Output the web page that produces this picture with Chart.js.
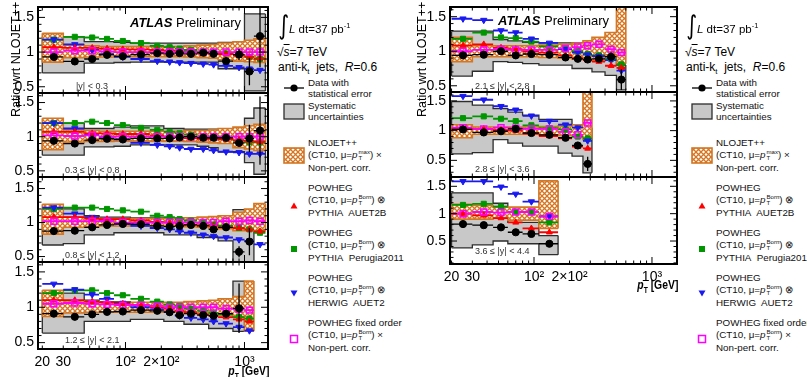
<!DOCTYPE html>
<html>
<head>
<meta charset="utf-8">
<script src="https://cdn.jsdelivr.net/npm/chart.js@4.4.1/dist/chart.umd.min.js"></script>
<style>
body{margin:0;width:807px;height:377px;position:relative;overflow:hidden;background:#fff;font-family:"Liberation Sans",Arial,sans-serif;}
canvas{position:absolute;}
.t{position:absolute;white-space:nowrap;color:#000;line-height:1;}
.ss{display:inline-flex;flex-direction:column;vertical-align:middle;font-size:0.62em;line-height:0.95;margin-left:1px;}
</style>
</head>
<body>
<script>
'use strict';

// pT bin edges [GeV]
const ptEdges = [20,30,45,60,80,110,160,210,260,310,400,500,600,800,1000,1200,1500];

const xTickVals = [20,30,100,200,1000];
const xTickText = ['20','30','10²','2×10²','10³'];
const yTickVals = [0.5,1,1.5];
const yTickText = ['0.5','1','1.5'];

// |y| < 0.3
const y03Data  = [0.93,0.865,0.90,0.96,0.94,0.965,0.985,0.975,0.985,0.975,0.99,0.975,0.87,0.965,0.72,1.23];
const y03Stat  = [0.01,0.01,0.01,0.01,0.01,0.01,0.01,0.01,0.01,0.01,0.01,0.015,0.03,0.08,0.2,0.45];
const y03SysUp = [1.22,1.22,1.15,1.15,1.14,1.13,1.13,1.13,1.13,1.13,1.13,1.13,1.14,1.14,1.55,1.55];
const y03SysDn = [0.70,0.70,0.84,0.84,0.85,0.855,0.855,0.855,0.855,0.855,0.855,0.855,0.76,0.76,0.44,0.44];
const y03NloUp = [1.27,1.10,1.09,1.08,1.08,1.08,1.08,1.08,1.08,1.09,1.10,1.11,1.13,1.15,1.17,1.19];
const y03NloDn = [0.855,0.92,0.93,0.93,0.935,0.935,0.935,0.935,0.935,0.93,0.92,0.91,0.89,0.87,0.86,0.85];
const y03PyA   = [1.07,1.06,1.06,1.05,1.04,1.04,1.03,1.02,1.01,1.0,0.99,0.98,0.97,0.95,0.93,0.91];
const y03PyP   = [1.18,1.22,1.21,1.19,1.16,1.13,1.09,1.07,1.05,1.03,1.01,1.0,0.98,0.96,0.93,0.90];
const y03Hw    = [1.18,1.11,1.03,0.97,0.93,0.90,0.87,0.86,0.85,0.84,0.83,0.82,0.80,0.78,0.76,0.74];
const y03Fo    = [1.0,1.02,1.02,1.01,1.0,1.0,1.0,1.0,1.0,1.0,1.0,1.0,1.0,1.0,1.0,1.0];

// 0.3 <= |y| < 0.8
const y08Data  = [0.94,0.90,0.95,0.97,0.96,0.975,0.975,0.975,0.99,1.0,0.985,0.985,0.985,0.91,0.975,1.09];
const y08Stat  = [0.01,0.01,0.01,0.01,0.01,0.01,0.01,0.01,0.01,0.01,0.01,0.01,0.02,0.05,0.2,0.5];
const y08SysUp = [1.2,1.2,1.12,1.12,1.14,1.16,1.16,1.12,1.12,1.11,1.11,1.11,1.11,1.11,1.27,1.42];
const y08SysDn = [0.73,0.73,0.85,0.85,0.86,0.88,0.88,0.88,0.88,0.88,0.86,0.84,0.78,0.78,0.62,0.45];
const y08NloUp = [1.27,1.10,1.09,1.08,1.08,1.08,1.08,1.08,1.08,1.09,1.09,1.10,1.12,1.14,1.16,1.18];
const y08NloDn = [0.81,0.92,0.93,0.93,0.935,0.935,0.935,0.935,0.935,0.93,0.92,0.91,0.90,0.84,0.82,0.80];
const y08PyA   = [1.07,1.07,1.05,1.05,1.04,1.04,1.02,1.0,1.0,0.98,0.97,0.97,0.96,0.95,0.94,0.93];
const y08PyP   = [1.2,1.2,1.22,1.2,1.17,1.13,1.10,1.07,1.05,1.03,1.0,0.98,0.97,0.94,0.92,0.92];
const y08Hw    = [1.2,1.12,1.03,0.98,0.96,0.91,0.88,0.86,0.84,0.82,0.82,0.80,0.78,0.77,0.75,0.75];
const y08Fo    = [1.02,1.01,1.02,1.0,1.0,1.0,1.0,1.0,1.0,1.0,1.0,1.0,1.0,1.0,1.0,1.0];

// 0.8 <= |y| < 1.2
const y12Data  = [0.875,0.88,0.93,0.965,0.98,0.975,0.95,0.94,0.95,0.965,0.95,0.90,0.93,0.57,0.72];
const y12Stat  = [0.01,0.01,0.01,0.01,0.01,0.01,0.01,0.01,0.01,0.01,0.01,0.015,0.04,0.08,0.2];
const y12SysUp = [1.2,1.2,1.1,1.08,1.08,1.07,1.07,1.07,1.07,1.06,1.06,1.06,1.06,1.19,1.17];
const y12SysDn = [0.67,0.69,0.82,0.82,0.85,0.85,0.85,0.82,0.82,0.82,0.78,0.78,0.73,0.42,0.42];
const y12NloUp = [1.27,1.08,1.07,1.06,1.06,1.06,1.06,1.06,1.06,1.07,1.08,1.09,1.10,1.15,1.2,1.28];
const y12NloDn = [0.83,0.93,0.94,0.95,0.95,0.95,0.95,0.95,0.95,0.94,0.93,0.92,0.91,0.88,0.88,0.88];
const y12PyA   = [1.08,1.08,1.06,1.05,1.05,1.03,1.01,1.0,0.98,0.97,0.96,0.95,0.93,0.92,0.90,0.87];
const y12PyP   = [1.2,1.22,1.22,1.2,1.18,1.16,1.10,1.08,1.05,1.03,1.0,0.97,0.95,0.92,0.90,0.85];
const y12Hw    = [1.22,1.13,1.08,1.04,0.98,0.95,0.92,0.90,0.87,0.85,0.82,0.80,0.78,0.75,0.73,0.68];
const y12Fo    = [1.02,1.02,1.02,1.02,1.0,1.0,1.0,1.0,1.0,1.0,1.0,1.0,1.02,1.02,1.03,1.02];

// 1.2 <= |y| < 2.1
const y21Data  = [0.91,0.865,0.90,0.935,0.94,0.96,0.95,0.93,0.89,0.91,0.89,0.88,0.91,0.985];
const y21Stat  = [0.01,0.01,0.01,0.01,0.01,0.01,0.01,0.01,0.01,0.01,0.01,0.02,0.05,0.35];
const y21SysUp = [1.2,1.2,1.1,1.08,1.08,1.06,1.06,1.05,1.05,1.05,1.05,1.06,1.07,1.37];
const y21SysDn = [0.635,0.635,0.80,0.80,0.80,0.83,0.83,0.80,0.80,0.76,0.76,0.70,0.70,0.66];
const y21NloUp = [1.24,1.09,1.08,1.07,1.07,1.07,1.07,1.07,1.07,1.08,1.09,1.1,1.12,1.15,1.37];
const y21NloDn = [0.87,0.92,0.93,0.93,0.93,0.93,0.93,0.93,0.93,0.92,0.92,0.91,0.89,0.87,0.66];
const y21PyA   = [1.1,1.1,1.08,1.07,1.05,1.03,1.0,0.98,0.95,0.93,0.9,0.88,0.86,0.83,0.80];
const y21PyP   = [1.2,1.24,1.24,1.2,1.17,1.12,1.08,1.04,1.02,0.98,0.95,0.92,0.90,0.86,0.84];
const y21Hw    = [1.33,1.25,1.18,1.12,1.06,1.0,0.97,0.93,0.88,0.85,0.83,0.80,0.77,0.72,0.67];
const y21Fo    = [1.05,1.06,1.05,1.04,1.03,1.03,1.02,1.0,1.0,1.0,1.0,1.0,0.98,0.97,0.96];

// 2.1 <= |y| < 2.8
const y28Data  = [0.94,0.95,1.0,0.94,0.96,0.95,0.91,0.89,0.88,0.89,0.92,0.59];
const y28Stat  = [0.01,0.01,0.01,0.01,0.01,0.01,0.01,0.01,0.02,0.03,0.06,0.15];
const y28SysUp = [1.29,1.29,1.17,1.15,1.13,1.12,1.12,1.12,1.12,1.15,1.15,0.80];
const y28SysDn = [0.64,0.71,0.85,0.84,0.82,0.80,0.80,0.75,0.75,0.70,0.65,0.44];
const y28NloUp = [1.2,1.08,1.08,1.08,1.08,1.09,1.10,1.12,1.15,1.2,1.27,1.64];
const y28NloDn = [0.85,0.92,0.92,0.92,0.92,0.91,0.90,0.89,0.88,0.86,0.95,0.82];
const y28PyA   = [1.08,1.1,1.05,1.03,1.0,0.98,0.94,0.90,0.87,0.85,0.79,0.76];
const y28PyP   = [1.18,1.27,1.2,1.19,1.14,1.07,1.03,1.0,0.96,0.94,0.89,0.81];
const y28Hw    = [1.47,1.45,1.3,1.27,1.18,1.12,1.03,0.98,0.95,0.93,0.87,0.72];
const y28Fo    = [1.0,1.02,1.03,1.02,1.02,1.02,1.04,1.06,1.08,1.1,1.03,0.98];

// 2.8 <= |y| < 3.6
const y36Data  = [1.02,0.97,0.99,1.03,0.96,0.93,0.88,0.75,0.44];
const y36Stat  = [0.01,0.01,0.01,0.01,0.01,0.02,0.03,0.05,0.12];
const y36SysUp = [1.49,1.43,1.37,1.31,1.26,1.19,1.19,1.07,1.05];
const y36SysDn = [0.61,0.63,0.85,0.79,0.74,0.74,0.62,0.57,0.29];
const y36NloUp = [1.1,1.06,1.06,1.06,1.06,1.07,1.08,1.10,1.65];
const y36NloDn = [0.88,0.94,0.94,0.94,0.94,0.93,0.92,0.90,0.85];
const y36PyA   = [1.03,1.03,1.01,1.0,0.95,0.91,0.87,0.73,0.70];
const y36PyP   = [1.21,1.24,1.2,1.16,1.09,1.04,1.02,0.9,0.87];
const y36Hw    = [1.58,1.52,1.41,1.35,1.25,1.16,1.1,1.05,0.83];
const y36Fo    = [1.05,1.03,1.05,1.04,1.03,1.03,0.98,0.93,1.13];

// 3.6 <= |y| < 4.4
const y44Data  = [0.81,0.79,0.75,0.66,0.63,0.45];
const y44Stat  = [0.01,0.01,0.01,0.02,0.03,0.06];
const y44SysUp = [1.38,1.38,1.19,0.84,0.84,0.6];
const y44SysDn = [0.375,0.43,0.5,0.45,0.45,0.25];
const y44NloUp = [1.17,1.15,1.12,1.12,1.12,1.6];
const y44NloDn = [0.9,0.9,0.92,0.88,0.88,0.73];
const y44PyA   = [1.0,0.97,0.92,0.84,0.73,0.66];
const y44PyP   = [1.16,1.18,1.13,1.03,1.03,0.84];
const y44Hw    = [1.59,1.59,1.49,1.36,1.22,0.95];
const y44Fo    = [1.0,1.03,1.02,1.03,1.03,0.95];

const binLabels = ['|y| < 0.3','0.3 ≤ |y| < 0.8','0.8 ≤ |y| < 1.2','1.2 ≤ |y| < 2.1',
                   '2.1 ≤ |y| < 2.8','2.8 ≤ |y| < 3.6','3.6 ≤ |y| < 4.4'];

const sets = [
  {data:y03Data,stat:y03Stat,sysUp:y03SysUp,sysDn:y03SysDn,nloUp:y03NloUp,nloDn:y03NloDn,pyA:y03PyA,pyP:y03PyP,hw:y03Hw,fo:y03Fo},
  {data:y08Data,stat:y08Stat,sysUp:y08SysUp,sysDn:y08SysDn,nloUp:y08NloUp,nloDn:y08NloDn,pyA:y08PyA,pyP:y08PyP,hw:y08Hw,fo:y08Fo},
  {data:y12Data,stat:y12Stat,sysUp:y12SysUp,sysDn:y12SysDn,nloUp:y12NloUp,nloDn:y12NloDn,pyA:y12PyA,pyP:y12PyP,hw:y12Hw,fo:y12Fo},
  {data:y21Data,stat:y21Stat,sysUp:y21SysUp,sysDn:y21SysDn,nloUp:y21NloUp,nloDn:y21NloDn,pyA:y21PyA,pyP:y21PyP,hw:y21Hw,fo:y21Fo},
  {data:y28Data,stat:y28Stat,sysUp:y28SysUp,sysDn:y28SysDn,nloUp:y28NloUp,nloDn:y28NloDn,pyA:y28PyA,pyP:y28PyP,hw:y28Hw,fo:y28Fo},
  {data:y36Data,stat:y36Stat,sysUp:y36SysUp,sysDn:y36SysDn,nloUp:y36NloUp,nloDn:y36NloDn,pyA:y36PyA,pyP:y36PyP,hw:y36Hw,fo:y36Fo},
  {data:y44Data,stat:y44Stat,sysUp:y44SysUp,sysDn:y44SysDn,nloUp:y44NloUp,nloDn:y44NloDn,pyA:y44PyA,pyP:y44PyP,hw:y44Hw,fo:y44Fo},
];

// layout: frame box [left, top, width, height] of every pad
const pads = [
  {box:[38,7,230,86],   xr:[18.4,1576], yr:[0.41,1.65], xAxis:false, lab:[76,86]},
  {box:[38,93,230,84],  xr:[18.4,1576], yr:[0.41,1.64], xAxis:false, lab:[65,170]},
  {box:[38,177,230,85], xr:[18.4,1576], yr:[0.42,1.67], xAxis:false, lab:[65,255]},
  {box:[38,262,230,86], xr:[18.4,1576], yr:[0.41,1.64], xAxis:true,  lab:[65,340]},
  {box:[450,7,227,85],  xr:[19.4,1630], yr:[0.41,1.64], xAxis:false, lab:[475,86]},
  {box:[450,92,227,85], xr:[19.4,1630], yr:[0.22,1.65], xAxis:false, lab:[475,169]},
  {box:[450,177,227,86],xr:[19.4,1630], yr:[0.08,1.67], xAxis:true,  lab:[475,251]},
];

const AX = 38, XH = 26;
const FONT = '"Liberation Sans", Arial, sans-serif';
const ORANGE = 'rgb(212,118,34)';
const GRAYFILL = 'rgb(200,200,200)';
const GRAYLINE = 'rgb(45,45,45)';

function hatch(){
  const c = document.createElement('canvas');
  c.width = 5; c.height = 5;
  const g = c.getContext('2d');
  g.fillStyle = '#fff'; g.fillRect(0,0,5,5);
  g.strokeStyle = ORANGE; g.lineWidth = 1.3;
  g.beginPath(); g.moveTo(0,0); g.lineTo(5,5); g.moveTo(5,0); g.lineTo(0,5); g.stroke();
  return g.createPattern(c,'repeat');
}
const hatchFill = hatch();

function centers(n){ return ptEdges.slice(0,n).map((lo,i)=>(lo+ptEdges[i+1])/2); }
function stepPts(vals){
  const p = [];
  vals.forEach((v,i)=>{ p.push({x:ptEdges[i],y:v},{x:ptEdges[i+1],y:v}); });
  return p;
}
function hBars(vals){
  const p = [];
  vals.forEach((v,i)=>{ p.push({x:ptEdges[i],y:v},{x:ptEdges[i+1],y:v},{x:ptEdges[i+1],y:null}); });
  return p;
}
function vBars(vals,errs){
  const c = centers(vals.length), p = [];
  vals.forEach((v,i)=>{ p.push({x:c[i],y:v-errs[i]},{x:c[i],y:v+errs[i]},{x:c[i],y:null}); });
  return p;
}
function markers(vals){
  const c = centers(vals.length);
  return vals.map((v,i)=>({x:c[i],y:v}));
}
function edgeLines(up,dn){
  const n = up.length;
  return [{x:ptEdges[0],y:dn[0]},{x:ptEdges[0],y:up[0]},{x:ptEdges[0],y:null},
          {x:ptEdges[n],y:dn[n-1]},{x:ptEdges[n],y:up[n-1]}];
}

function lineDs(data,color,width,order,extra){
  return Object.assign({type:'line',data,borderColor:color,borderWidth:width,pointRadius:0,
    fill:false,spanGaps:false,order},extra||{});
}
function markDs(data,style,color,radius,order,extra){
  return Object.assign({type:'scatter',data,pointStyle:style,pointRadius:radius,
    pointBackgroundColor:color,pointBorderColor:color,pointBorderWidth:1,order},extra||{});
}

function buildDatasets(s){
  return [
    lineDs(stepPts(s.sysUp),GRAYLINE,1.3,39),
    lineDs(stepPts(s.sysDn),GRAYLINE,1.3,40,{fill:'-1',backgroundColor:GRAYFILL}),
    lineDs(edgeLines(s.sysUp,s.sysDn),GRAYLINE,1.3,39),
    lineDs(stepPts(s.nloUp),ORANGE,1.6,35),
    lineDs(stepPts(s.nloDn),ORANGE,1.6,36,{fill:'-1',backgroundColor:hatchFill}),
    lineDs(edgeLines(s.nloUp,s.nloDn),ORANGE,1.6,35),
    lineDs(hBars(s.pyP),'rgb(0,150,0)',1.8,20),
    lineDs(hBars(s.hw),'rgb(25,25,240)',1.8,19),
    lineDs(hBars(s.pyA),'rgb(255,0,0)',1.8,18),
    lineDs(hBars(s.fo),'rgb(255,0,255)',1.8,17),
    markDs(markers(s.pyP),'rect','rgb(0,150,0)',3.6,16),
    markDs(markers(s.hw),'triangle','rgb(25,25,240)',3.6,15,{pointRotation:180}),
    markDs(markers(s.pyA),'triangle','rgb(255,0,0)',3.4,14),
    markDs(markers(s.fo),'rect','rgb(255,0,255)',4.2,13,{pointBackgroundColor:'rgba(0,0,0,0)',pointBorderWidth:1.5}),
    lineDs(hBars(s.data),'#000',1.3,3),
    lineDs(vBars(s.data,s.stat),'#000',1.3,2),
    markDs(markers(s.data),'circle','#000',3.6,1),
  ];
}

// frame and inward ticks (ROOT style)
const xMinor = [];
for (let d=10; d<=1000; d*=10) for (let k=1;k<10;k++) xMinor.push(k*d);
const framePlugin = {
  id:'frame',
  afterDatasetsDraw(chart){
    const {ctx, chartArea:a, scales:{x,y}} = chart;
    ctx.save();
    ctx.strokeStyle = '#000';
    ctx.lineWidth = 1;
    ctx.beginPath();
    xMinor.forEach(v=>{
      if (v<=x.min || v>=x.max) return;
      const px = x.getPixelForValue(v);
      const L = (v===100||v===1000) ? 7 : 3.5;
      ctx.moveTo(px,a.bottom); ctx.lineTo(px,a.bottom-L);
      ctx.moveTo(px,a.top); ctx.lineTo(px,a.top+L);
    });
    for (let v=Math.ceil(y.min*10); v<=y.max*10; v++){
      const py = y.getPixelForValue(v/10);
      const L = (v%5===0) ? 7 : 3.5;
      ctx.moveTo(a.left,py); ctx.lineTo(a.left+L,py);
      ctx.moveTo(a.right,py); ctx.lineTo(a.right-L,py);
    }
    ctx.stroke();
    ctx.lineWidth = 2;
    ctx.strokeRect(a.left,a.top,a.right-a.left,a.bottom-a.top);
    ctx.restore();
  }
};

pads.forEach((p,i)=>{
  const [L,T,W,H] = p.box;
  const cv = document.createElement('canvas');
  const xh = p.xAxis ? XH : 0;
  const cw = AX + W + 2, ch = H + 2 + xh;
  cv.width = cw; cv.height = ch;
  cv.style.left = (L-AX)+'px'; cv.style.top = (T-1)+'px';
  cv.style.width = cw+'px'; cv.style.height = ch+'px';
  document.body.appendChild(cv);
  new Chart(cv,{
    data:{datasets:buildDatasets(sets[i])},
    options:{
      responsive:false, animation:false, devicePixelRatio:1,
      layout:{autoPadding:false,padding:{top:1,right:2,bottom:p.xAxis?0:1,left:0}},
      plugins:{legend:{display:false},tooltip:{enabled:false}},
      scales:{
        x:{type:'logarithmic',min:p.xr[0],max:p.xr[1],display:p.xAxis,
           grid:{display:false,drawTicks:false},border:{display:false},
           afterBuildTicks:s=>{ s.ticks = xTickVals.map(v=>({value:v})); },
           afterFit:s=>{ s.height = xh; s.paddingLeft = 0; s.paddingRight = 0; },
           ticks:{autoSkip:false,maxRotation:0,padding:5,color:'#000',font:{family:FONT,size:14},
                  callback:v=>xTickText[xTickVals.indexOf(v)]}},
        y:{type:'linear',min:p.yr[0],max:p.yr[1],
           grid:{display:false,drawTicks:false},border:{display:false},
           afterBuildTicks:s=>{ s.ticks = yTickVals.map(v=>({value:v})); },
           afterFit:s=>{ s.width = AX; s.paddingTop = 0; s.paddingBottom = 0; },
           ticks:{autoSkip:false,padding:4,color:'#000',font:{family:FONT,size:14},
                  callback:v=>yTickText[yTickVals.indexOf(v)]}}
      }
    },
    plugins:[framePlugin]
  });
});

// ---- text ----
function txt(x,y,html,size,extra){
  const d = document.createElement('div');
  d.className = 't';
  d.style.left = x+'px'; d.style.top = (y - size/2)+'px';
  d.style.fontSize = size+'px';
  if (extra) Object.assign(d.style,extra);
  d.innerHTML = html;
  document.body.appendChild(d);
  return d;
}

pads.forEach((p,i)=>{ txt(p.lab[0],p.lab[1],binLabels[i],9,{color:'#333'}); });

const ptBorn = '<i>p</i><span class="ss"><span>Born</span><span>T</span></span>';
const ptMax = '<i>p</i><span class="ss"><span>max</span><span>T</span></span>';
const legendLines = [
  [83,'Data with'],[94,'statistical error'],
  [106,'Systematic'],[117,'uncertainties'],
  [143,'NLOJET++'],[155,'(CT10, μ='+ptMax+') ×'],[168,'Non-pert. corr.'],
  [188,'POWHEG'],[200,'(CT10, μ='+ptBorn+') ⊗'],[213,'PYTHIA&nbsp; AUET2B'],
  [233,'POWHEG'],[245,'(CT10, μ='+ptBorn+') ⊗'],[258,'PYTHIA&nbsp; Perugia2011'],
  [278,'POWHEG'],[290,'(CT10, μ='+ptBorn+') ⊗'],[303,'HERWIG&nbsp; AUET2'],
  [323,'POWHEG fixed order'],[335,'(CT10, μ='+ptBorn+') ×'],[348,'Non-pert. corr.'],
];

function svgMark(x,y,w,h,inner){
  const d = document.createElement('div');
  d.style.position='absolute'; d.style.left=x+'px'; d.style.top=y+'px';
  d.innerHTML = '<svg width="'+w+'" height="'+h+'" xmlns="http://www.w3.org/2000/svg">'+inner+'</svg>';
  document.body.appendChild(d);
}

[0,408].forEach((off,k)=>{
  // y-axis title
  txt((k?416:10),0,'Ratio wrt NLOJET++',12.5,{transformOrigin:'left top',transform:'rotate(-90deg)',top:'117px'});
  // ATLAS Preliminary
  txt((k?498:130),(k?20:22),'<b><i>ATLAS</i></b> Preliminary',13);
  // header
  txt(277+off,25,'<span style="font-family:DejaVu Sans;font-size:26px;display:inline-block;transform:scaleX(0.8)">∫</span>',26);
  txt(289+off,28,'<i>L</i> dt=37 pb<sup style="font-size:0.65em">-1</sup>',11.5);
  txt(277+off,52,'√<span style="text-decoration:overline"><i>s</i></span>=7 TeV',12);
  txt(278+off,67,'anti-k<sub style="font-size:0.65em">t</sub>&nbsp; jets,&nbsp; <i>R</i>=0.6',12);
  legendLines.forEach(l=>txt(308+off,l[0],l[1],9.8,{color:'#111'}));
  const m = off + 1;
  svgMark(282+m,81,22,14,'<line x1="1" y1="7" x2="21" y2="7" stroke="#000" stroke-width="1.3"/><circle cx="11" cy="7" r="3.6" fill="#000"/>');
  svgMark(282+m,103,22,17,'<rect x="1" y="1" width="20" height="15" fill="'+GRAYFILL+'" stroke="'+GRAYLINE+'" stroke-width="1.3"/>');
  svgMark(282+m,147,22,17,'<defs><pattern id="h'+k+'" width="5" height="5" patternUnits="userSpaceOnUse"><rect width="5" height="5" fill="#fff"/><path d="M0,0L5,5M5,0L0,5" stroke="'+ORANGE+'" stroke-width="1.3"/></pattern></defs><rect x="1" y="1" width="20" height="15" fill="url(#h'+k+')" stroke="'+ORANGE+'" stroke-width="1.6"/>');
  svgMark(288+m,197,10,10,'<polygon points="5,1.5 8.5,7.5 1.5,7.5" fill="rgb(255,0,0)"/>');
  svgMark(288+m,240,10,10,'<rect x="2" y="2" width="6" height="6" fill="rgb(0,150,0)"/>');
  svgMark(288+m,284,10,10,'<polygon points="1.5,2.5 8.5,2.5 5,8.5" fill="rgb(25,25,240)"/>');
  svgMark(288+m,330,10,10,'<rect x="1.5" y="1.5" width="7" height="7" fill="none" stroke="rgb(255,0,255)" stroke-width="1.5"/>');
});

// x-axis titles, right-aligned to the frame edge
const ptTitle = '<b><i>p</i><sub style="font-size:0.65em">T</sub> [GeV]</b>';
const squeeze = {transformOrigin:'right center',transform:'scaleX(0.8)'};
txt(0,370,ptTitle,13,Object.assign({left:'auto',right:(807-269)+'px'},squeeze));
txt(0,284,ptTitle,13,Object.assign({left:'auto',right:(807-678)+'px'},squeeze));
</script>
</body>
</html>
